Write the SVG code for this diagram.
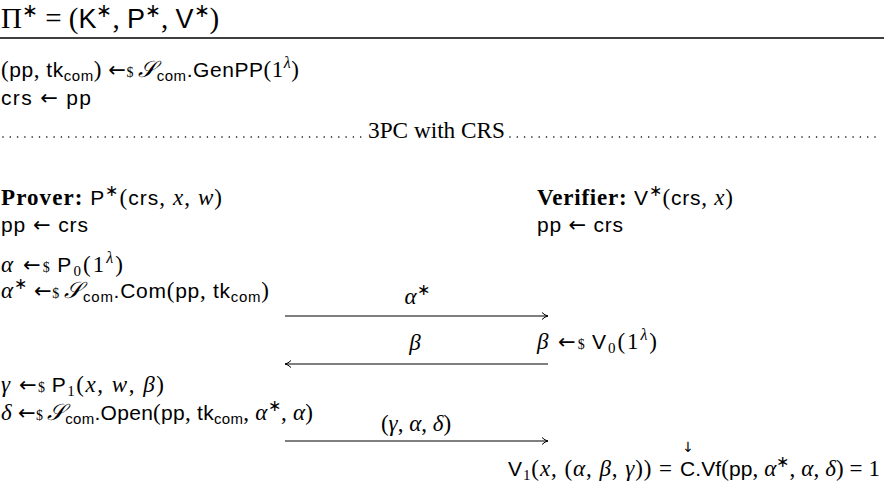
<svg xmlns="http://www.w3.org/2000/svg" width="885" height="483" viewBox="0 0 885 483">
<style>
text{font-family:"Liberation Serif",serif;font-size:23px;fill:#000}
.s{font-family:"Liberation Sans",sans-serif;font-size:21px}
.i{font-style:italic}
.b{font-weight:bold}
.sub{font-size:15px}
.sup{font-size:16px}
.ar{font-family:"DejaVu Sans",sans-serif;font-size:21px}
.dol{font-size:14px}
.ln{stroke:#000;stroke-width:1.1;fill:none}
.dots{stroke:#000;stroke-width:1.6;stroke-linecap:round;stroke-dasharray:0 7.3;fill:none}
</style>
<defs>
<marker id="ah" markerWidth="10" markerHeight="10" refX="9" refY="5" orient="auto" markerUnits="userSpaceOnUse">
<path d="M3,1.5 Q6,4.5 9,5 Q6,5.5 3,8.5" fill="none" stroke="#000" stroke-width="1"/>
</marker>
</defs>
<rect width="885" height="483" fill="#fff"/>
<g id="title">
<text x="1" y="28" style="font-size:29px">Π<tspan style="font-size:19px" dy="-11">∗</tspan><tspan dy="11"> = (</tspan><tspan class="s" style="font-size:27px">K</tspan><tspan style="font-size:19px" dy="-11">∗</tspan><tspan dy="11">, </tspan><tspan class="s" style="font-size:27px">P</tspan><tspan style="font-size:19px" dy="-11">∗</tspan><tspan dy="11">, </tspan><tspan class="s" style="font-size:27px">V</tspan><tspan style="font-size:19px" dy="-11">∗</tspan><tspan dy="11">)</tspan></text>
<line x1="0" y1="38" x2="884" y2="38" stroke="#000" stroke-width="1.6"/>
</g>
<g id="setup">
<text x="1" y="77" textLength="298" lengthAdjust="spacing">(<tspan class="s">pp</tspan>, <tspan class="s">tk</tspan><tspan class="s sub" dy="4">com</tspan><tspan dy="-4">) </tspan><tspan class="ar">←</tspan><tspan class="dol">$ </tspan><tspan class="i">𝒮</tspan><tspan class="s sub" dy="4">com</tspan><tspan class="s" dy="-4">.GenPP</tspan>(1<tspan class="sup i" dy="-9">λ</tspan><tspan dy="9">)</tspan></text>
<text x="1" y="105" textLength="90" lengthAdjust="spacing"><tspan class="s">crs</tspan> <tspan class="ar">←</tspan> <tspan class="s">pp</tspan></text>
</g>
<g id="separator">
<line class="dots" x1="3" y1="137" x2="362" y2="137"/>
<text x="368" y="138" textLength="137" lengthAdjust="spacingAndGlyphs">3PC with CRS</text>
<line class="dots" x1="510" y1="137" x2="882" y2="137"/>
</g>
<g id="prover">
<text x="1" y="205" textLength="221" lengthAdjust="spacing"><tspan class="b">Prover:</tspan>  <tspan class="s">P</tspan><tspan class="sup" dy="-9">∗</tspan><tspan dy="9">(</tspan><tspan class="s">crs</tspan>, <tspan class="i">x</tspan>, <tspan class="i">w</tspan>)</text>
<text x="1" y="232" textLength="87" lengthAdjust="spacing"><tspan class="s">pp</tspan> <tspan class="ar">←</tspan> <tspan class="s">crs</tspan></text>
<text x="1" y="272" textLength="122" lengthAdjust="spacing"><tspan class="i">α</tspan> <tspan class="ar">←</tspan><tspan class="dol">$ </tspan><tspan class="s">P</tspan><tspan class="sub" dy="4">0</tspan><tspan dy="-4">(1</tspan><tspan class="sup i" dy="-9">λ</tspan><tspan dy="9">)</tspan></text>
<text x="1" y="298" textLength="268" lengthAdjust="spacing"><tspan class="i">α</tspan><tspan class="sup" dy="-9">∗</tspan><tspan dy="9"> </tspan><tspan class="ar">←</tspan><tspan class="dol">$ </tspan><tspan class="i">𝒮</tspan><tspan class="s sub" dy="4">com</tspan><tspan class="s" dy="-4">.Com</tspan>(<tspan class="s">pp</tspan>, <tspan class="s">tk</tspan><tspan class="s sub" dy="4">com</tspan><tspan dy="-4">)</tspan></text>
<text x="1" y="392" textLength="163" lengthAdjust="spacing"><tspan class="i">γ</tspan> <tspan class="ar">←</tspan><tspan class="dol">$ </tspan><tspan class="s">P</tspan><tspan class="sub" dy="4">1</tspan><tspan dy="-4">(</tspan><tspan class="i">x</tspan>, <tspan class="i">w</tspan>, <tspan class="i">β</tspan>)</text>
<text x="1" y="420" textLength="312" lengthAdjust="spacing"><tspan class="i">δ</tspan> <tspan class="ar">←</tspan><tspan class="dol">$ </tspan><tspan class="i">𝒮</tspan><tspan class="s sub" dy="4">com</tspan><tspan class="s" dy="-4">.Open</tspan>(<tspan class="s">pp</tspan>, <tspan class="s">tk</tspan><tspan class="s sub" dy="4">com</tspan><tspan dy="-4">, </tspan><tspan class="i">α</tspan><tspan class="sup" dy="-9">∗</tspan><tspan dy="9">, </tspan><tspan class="i">α</tspan>)</text>
</g>
<g id="verifier">
<text x="537" y="205" textLength="196" lengthAdjust="spacing"><tspan class="b">Verifier:</tspan>  <tspan class="s">V</tspan><tspan class="sup" dy="-9">∗</tspan><tspan dy="9">(</tspan><tspan class="s">crs</tspan>, <tspan class="i">x</tspan>)</text>
<text x="537" y="232" textLength="86" lengthAdjust="spacing"><tspan class="s">pp</tspan> <tspan class="ar">←</tspan> <tspan class="s">crs</tspan></text>
<text x="537" y="349" textLength="120" lengthAdjust="spacing"><tspan class="i">β</tspan> <tspan class="ar">←</tspan><tspan class="dol">$ </tspan><tspan class="s">V</tspan><tspan class="sub" dy="4">0</tspan><tspan dy="-4">(1</tspan><tspan class="sup i" dy="-9">λ</tspan><tspan dy="9">)</tspan></text>
<text x="508" y="476" textLength="164" lengthAdjust="spacing"><tspan class="s">V</tspan><tspan class="sub" dy="4">1</tspan><tspan dy="-4">(</tspan><tspan class="i">x</tspan>, (<tspan class="i">α</tspan>, <tspan class="i">β</tspan>, <tspan class="i">γ</tspan>))  =</text>
<text x="680" y="476" textLength="200" lengthAdjust="spacing"><tspan class="s">C.Vf</tspan>(<tspan class="s">pp</tspan>, <tspan class="i">α</tspan><tspan class="sup" dy="-9">∗</tspan><tspan dy="9">, </tspan><tspan class="i">α</tspan>, <tspan class="i">δ</tspan>)  =  1</text>
<text x="688" y="452" style="font-size:14px" text-anchor="middle" class="ar">↓</text>
</g>
<g id="connectors">
<line class="ln" x1="285" y1="316" x2="548" y2="316" marker-end="url(#ah)"/>
<text x="417" y="304" text-anchor="middle"><tspan class="i">α</tspan><tspan class="sup" dy="-9">∗</tspan></text>
<line class="ln" x1="548" y1="364" x2="285" y2="364" marker-end="url(#ah)"/>
<text x="415" y="350" text-anchor="middle" class="i">β</text>
<line class="ln" x1="285" y1="441" x2="548" y2="441" marker-end="url(#ah)"/>
<text x="416" y="431" text-anchor="middle">(<tspan class="i">γ</tspan>, <tspan class="i">α</tspan>, <tspan class="i">δ</tspan>)</text>
</g>
</svg>
